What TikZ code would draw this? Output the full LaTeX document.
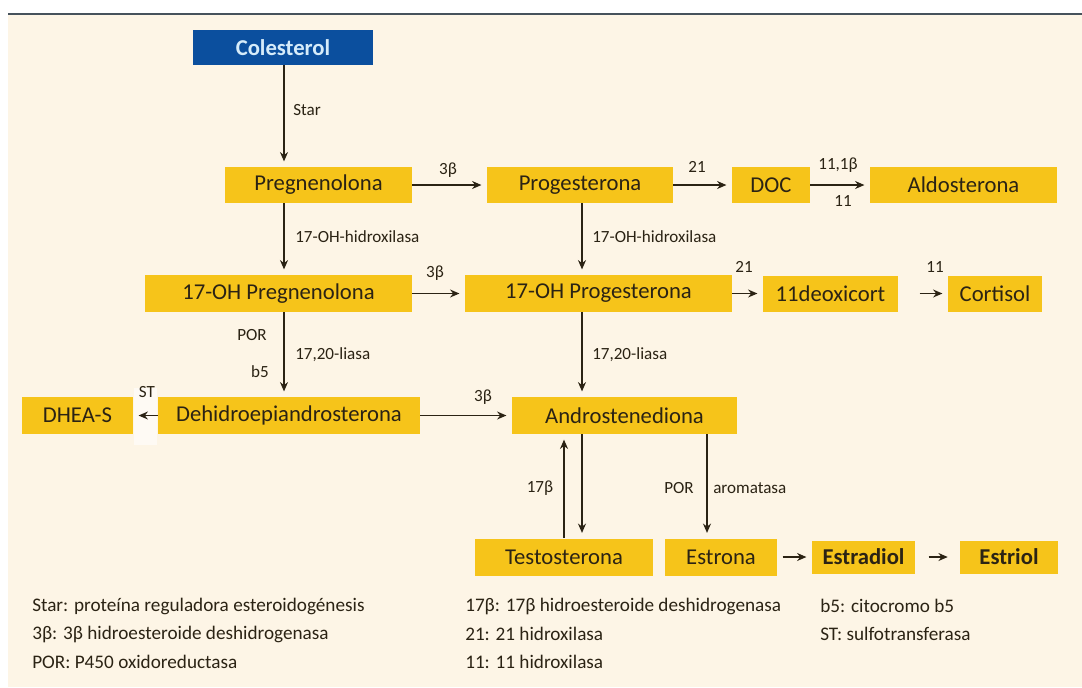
\documentclass[tikz,border=0pt]{standalone}
\usepackage{fontspec}
\setmainfont{Carlito}
\usetikzlibrary{arrows.meta}

\definecolor{cream}{HTML}{FDF5E6}
\definecolor{gold}{HTML}{F6C41A}
\definecolor{navy}{HTML}{0B4F9E}
\definecolor{pale}{HTML}{D6ECFA}
\definecolor{ink}{HTML}{2B2314}
\definecolor{rulecol}{HTML}{46525C}

\begin{document}
\begin{tikzpicture}[x=0.75pt,y=-0.75pt,
  bx/.style 2 args={minimum width=#1*0.75pt, minimum height=#2*0.75pt},
  box/.style={fill=gold, inner sep=0pt, text=ink, font=\fontsize{17}{20}\selectfont},
  arr/.style={-{Stealth[length=7pt,width=6pt]}, line width=0.85pt, draw=ink, shorten >=4pt},
  lbl/.style={font=\fontsize{12.8}{15}\selectfont, text=ink, inner sep=0pt},
  leg/.style={font=\fontsize{14.4}{17}\selectfont, text=ink, anchor=west, inner sep=0pt}]

% page, cream panel and top rule
\useasboundingbox (0,0) rectangle (1082,687);
\fill[white] (0,0) rectangle (1082,687);
\fill[cream] (8,15) rectangle (1082,687);
\draw[rulecol, line width=1.5pt] (8,14) -- (1082,14);
\fill[white!55!cream] (134,388) rectangle (157,445);

% metabolites
\node[box, bx={180}{35}, fill=navy, text=pale, font=\fontsize{17}{20}\selectfont\bfseries] (col) at (283,47.5) {Colesterol};
\node[box, bx={187}{36}] (preg)  at (318.5,185) {Pregnenolona};
\node[box, bx={186}{36}] (prog)  at (580,185)   {Progesterona};
\node[box, bx={78}{36}]  (doc)   at (771,185)   {DOC};
\node[box, bx={187}{36}] (aldo)  at (963.5,185) {Aldosterona};

\node[box, bx={267}{37}] (ohpreg) at (278.5,293.5) {17-OH Pregnenolona};
\node[box, bx={267}{37}] (ohprog) at (598.5,293.5) {17-OH Progesterona};
\node[box, bx={135}{36}] (deoxi)  at (830.5,293.5) {11deoxicort};
\node[box, bx={94}{36}]  (cort)   at (995,293.5)   {Cortisol};

\node[box, bx={111}{37}] (dheas) at (77.5,415.5)  {DHEA-S};
\node[box, bx={262}{37}] (dhea)  at (289,415.5)   {Dehidroepiandrosterona};
\node[box, bx={225}{37}] (andro) at (624.5,415.5) {Androstenediona};

\node[box, bx={178}{37}] (testo)     at (564,557)   {Testosterona};
\node[box, bx={112}{37}] (estrona)   at (721,557)   {Estrona};
\node[box, bx={103}{33}, font=\fontsize{17}{20}\selectfont\bfseries] (estradiol) at (863.5,557) {Estradiol};
\node[box, bx={98}{33},  font=\fontsize{17}{20}\selectfont\bfseries] (estriol)   at (1009,557)  {Estriol};

% columns of the vertical steps
\coordinate (xa) at (284,0);
\coordinate (xb) at (582,0);
\coordinate (xc) at (564,0);
\coordinate (xd) at (707,0);

% vertical steps
\draw[arr] (col.south -| xa)    -- (preg.north -| xa);
\draw[arr] (preg.south -| xa)   -- (ohpreg.north -| xa);
\draw[arr] (ohpreg.south -| xa) -- (dhea.north -| xa);
\draw[arr] (prog.south -| xb)   -- (ohprog.north -| xb);
\draw[arr] (ohprog.south -| xb) -- (andro.north -| xb);
\draw[arr] (andro.south -| xb)  -- (testo.north -| xb);
\draw[arr] (testo.north -| xc)  -- (andro.south -| xc);
\draw[arr] (andro.south -| xd)  -- (estrona.north -| xd);

% horizontal steps
\draw[arr] (preg.east)   -- (prog.west);
\draw[arr] (prog.east)   -- (doc.west);
\draw[arr] (doc.east)    -- (aldo.west);
\draw[arr] (ohpreg.east) -- (ohprog.west);
\draw[arr] (ohprog.east) -- (deoxi.west);
\draw[arr, shorten <=16pt] (deoxi.east) -- (cort.west);
\draw[arr] (dhea.east)   -- (andro.west);
\draw[arr] (dhea.west)   -- (dheas.east);
\draw[arr, shorten <=4pt] (estrona.east)   -- (estradiol.west);
\draw[arr, shorten <=10pt, shorten >=9pt] (estradiol.east) -- (estriol.west);

% enzyme labels
\node[lbl, anchor=west] at (293,110) {Star};
\node[lbl] at (448,170) {3β};
\node[lbl] at (697,167) {21};
\node[lbl] at (838,165) {11,1β};
\node[lbl] at (843,201) {11};
\node[lbl, anchor=west] at (295,237) {17-OH-hidroxilasa};
\node[lbl, anchor=west] at (592,237) {17-OH-hidroxilasa};
\node[lbl] at (435,273) {3β};
\node[lbl] at (744,267) {21};
\node[lbl] at (935,267) {11};
\node[lbl] at (252,335) {POR};
\node[lbl] at (260,372) {b5};
\node[lbl, anchor=west] at (295,355) {17,20-liasa};
\node[lbl, anchor=west] at (592,355) {17,20-liasa};
\node[lbl] at (147,392) {ST};
\node[lbl] at (483,397) {3β};
\node[lbl] at (540,488) {17β};
\node[lbl] at (679,488) {POR};
\node[lbl, anchor=west] at (713,488) {aromatasa};

% key to abbreviations
\node[leg] at (32,606) {Star: proteína reguladora esteroidogénesis};
\node[leg] at (32,634) {3β: 3β hidroesteroide deshidrogenasa};
\node[leg] at (32,662) {POR: P450 oxidoreductasa};
\node[leg] at (465,606) {17β: 17β hidroesteroide deshidrogenasa};
\node[leg] at (465,634) {21: 21 hidroxilasa};
\node[leg] at (465,662) {11: 11 hidroxilasa};
\node[leg] at (820,606) {b5: citocromo b5};
\node[leg] at (820,634) {ST: sulfotransferasa};
\end{tikzpicture}
\end{document}
